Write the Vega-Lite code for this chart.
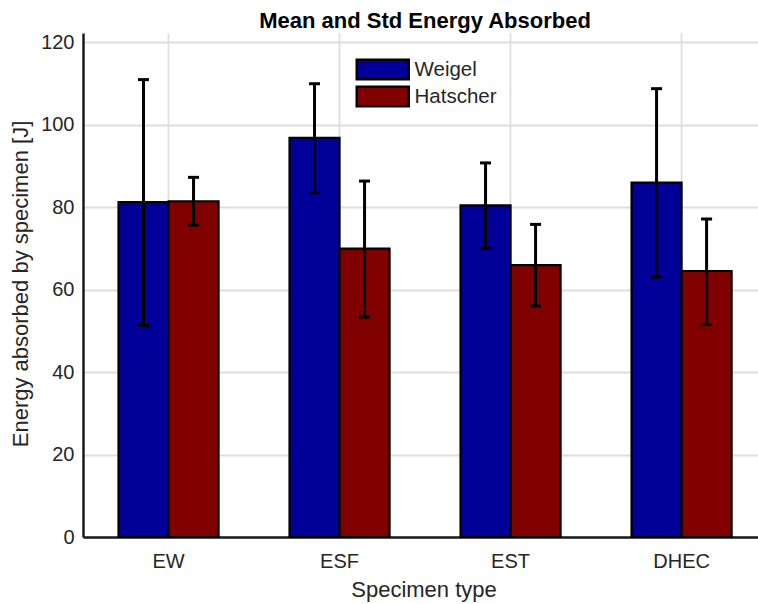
{
  "$schema": "https://vega.github.io/schema/vega-lite/v6.json",
  "width": 675,
  "height": 504,
  "autosize": {"type": "none"},
  "padding": {"left": 83, "top": 33, "right": 0, "bottom": 67},
  "background": "white",
  "title": {
    "text": "Mean and Std Energy Absorbed",
    "font": "Liberation Sans",
    "fontSize": 22,
    "fontWeight": "bold",
    "color": "#000000",
    "anchor": "middle",
    "dx": 4.5,
    "baseline": "alphabetic",
    "offset": -18
  },
  "config": {
    "view": {"stroke": null},
    "font": "Liberation Sans",
    "axis": {
      "labelFont": "Liberation Sans",
      "titleFont": "Liberation Sans",
      "labelColor": "#262626",
      "titleColor": "#262626",
      "titleFontWeight": "normal",
      "domainColor": "#1a1a1a",
      "domainWidth": 2.5,
      "ticks": false,
      "tickSize": 0,
      "grid": true,
      "gridColor": "#dedede",
      "gridWidth": 1.8
    },
    "legend": {
      "labelFont": "Liberation Sans",
      "labelColor": "#262626"
    }
  },
  "data": {
    "values": [
      {"type": "EW", "group": "Weigel", "mean": 81.2, "lo": 51.3, "hi": 110.9},
      {"type": "EW", "group": "Hatscher", "mean": 81.4, "lo": 75.6, "hi": 87.2},
      {"type": "ESF", "group": "Weigel", "mean": 96.8, "lo": 83.5, "hi": 109.9},
      {"type": "ESF", "group": "Hatscher", "mean": 69.9, "lo": 53.3, "hi": 86.3},
      {"type": "EST", "group": "Weigel", "mean": 80.4, "lo": 70.0, "hi": 90.7},
      {"type": "EST", "group": "Hatscher", "mean": 65.9, "lo": 56.0, "hi": 75.8},
      {"type": "DHEC", "group": "Weigel", "mean": 85.9, "lo": 63.0, "hi": 108.7},
      {"type": "DHEC", "group": "Hatscher", "mean": 64.5, "lo": 51.5, "hi": 77.1}
    ]
  },
  "encoding": {
    "x": {
      "field": "type",
      "type": "nominal",
      "sort": ["EW", "ESF", "EST", "DHEC"],
      "scale": {"paddingInner": 0.415, "paddingOuter": 0.181, "align": 0.5735},
      "axis": {
        "orient": "bottom",
        "bandPosition": 0.5,
        "labelAngle": 0,
        "labelFontSize": 20,
        "labelPadding": 14.5,
        "title": "Specimen type",
        "titleFontSize": 22,
        "titleBaseline": "alphabetic",
        "titleAlign": "center",
        "titleX": 340.5,
        "titleY": 59
      }
    },
    "xOffset": {
      "field": "group",
      "type": "nominal",
      "sort": ["Weigel", "Hatscher"],
      "scale": {"paddingInner": 0, "paddingOuter": 0}
    }
  },
  "layer": [
    {
      "mark": {"type": "bar", "stroke": "#000000", "strokeWidth": 2.2, "opacity": 1},
      "encoding": {
        "y": {
          "field": "mean",
          "type": "quantitative",
          "scale": {"domain": [0, 122.2], "nice": false, "zero": true},
          "axis": {
            "values": [0, 20, 40, 60, 80, 100, 120],
            "labelFontSize": 20,
            "labelPadding": 9,
            "title": "Energy absorbed by specimen [J]",
            "titleFontSize": 22,
            "titleAngle": 270,
            "titleBaseline": "alphabetic",
            "titleAlign": "center",
            "titleX": -56,
            "titleY": 250.5
          }
        },
        "color": {
          "field": "group",
          "type": "nominal",
          "sort": ["Weigel", "Hatscher"],
          "scale": {"domain": ["Weigel", "Hatscher"], "range": ["#000099", "#800000"]},
          "legend": {
            "title": null,
            "orient": "none",
            "legendX": 288.25,
            "legendY": 25,
            "padding": 0,
            "symbolType": "M-2.6,-0.97H2.6V0.97H-2.6Z",
            "symbolSize": 400,
            "symbolStrokeColor": "#000000",
            "symbolStrokeWidth": 2.5,
            "symbolOpacity": 1,
            "labelFontSize": 20.5,
            "labelOffset": 20.25,
            "rowPadding": -4.5
          }
        }
      }
    },
    {
      "mark": {"type": "rule", "color": "#000000", "strokeWidth": 3},
      "encoding": {
        "y": {"field": "lo", "type": "quantitative"},
        "y2": {"field": "hi"}
      }
    },
    {
      "mark": {"type": "tick", "color": "#000000", "size": 11, "thickness": 3, "opacity": 1},
      "encoding": {
        "y": {"field": "lo", "type": "quantitative"}
      }
    },
    {
      "mark": {"type": "tick", "color": "#000000", "size": 11, "thickness": 3, "opacity": 1},
      "encoding": {
        "y": {"field": "hi", "type": "quantitative"}
      }
    }
  ]
}
